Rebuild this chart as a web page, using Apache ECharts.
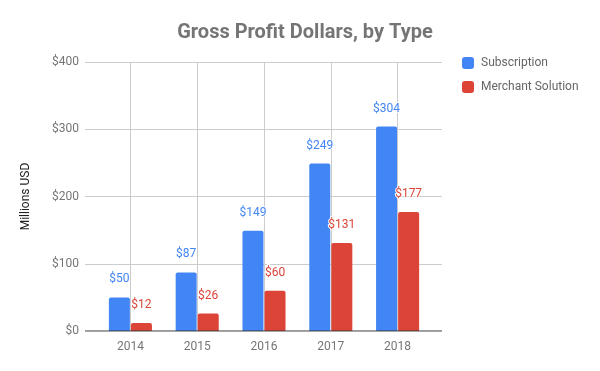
<!DOCTYPE html>
<html><head><meta charset="utf-8">
<script src="https://cdn.jsdelivr.net/npm/echarts@6/dist/echarts.min.js"></script>
<style>html,body{margin:0;padding:0;background:#fff}#c{width:600px;height:371px}</style>
</head><body><div id="c"></div>
<script>
const categories = ['2014','2015','2016','2017','2018'];
const subscription = [50, 87, 149, 249, 304];
const merchant = [12, 26, 60, 131, 177];
const yTicks = [0, 100, 200, 300, 400];
const seriesNames = ['Subscription', 'Merchant Solution'];

const chart = echarts.init(document.getElementById('c'));
const font = 'Roboto';
const gTop = 62, gBottom = 371 - 331;
chart.setOption({
  animation: false,
  textStyle: { fontFamily: font },
  title: {
    text: 'Gross Profit Dollars, by Type',
    left: 300, top: 18, textAlign: 'center',
    textStyle: { fontFamily: font, fontSize: 20, fontWeight: 'bold', color: '#757575' }
  },
  legend: {
    orient: 'vertical', left: 457, top: 52, itemWidth: 12, itemHeight: 12, itemGap: 12,
    icon: 'roundRect',
    textStyle: { fontFamily: font, fontSize: 12, color: '#666', padding: [0, 0, 0, 2] },
    data: seriesNames
  },
  grid: [
    { left: 85, right: 600 - 442, top: gTop, bottom: gBottom },
    { left: 97, right: 600 - 431, top: gTop, bottom: gBottom }
  ],
  xAxis: [
    { type: 'value', gridIndex: 0, min: 0, max: 1, show: false },
    { type: 'category', gridIndex: 1, data: categories,
      axisLine: { show: false }, axisTick: { show: false },
      axisLabel: { color: '#757575', fontSize: 12, margin: 10 },
      splitLine: { show: true, alignWithLabel: true, lineStyle: { color: '#ccc' } } }
  ],
  yAxis: [
    { type: 'value', gridIndex: 0, min: 0, max: 400, interval: 100,
      name: 'Millions USD', nameLocation: 'middle', nameGap: 53,
      nameTextStyle: { color: '#222', fontSize: 12 },
      axisLine: { show: false }, axisTick: { show: false },
      axisLabel: { color: '#757575', fontSize: 12, margin: 6, formatter: v => '$' + v },
      splitLine: { lineStyle: { color: '#ccc' } } },
    { type: 'value', gridIndex: 1, min: 0, max: 400, interval: 100, show: false,
      splitLine: { show: false } }
  ],
  series: [
    { type: 'line', xAxisIndex: 0, yAxisIndex: 0, data: [[0, 0], [1, 0]], symbol: 'none',
      lineStyle: { color: '#333', width: 1 }, silent: true, z: 5 },
    { name: seriesNames[0], type: 'bar', xAxisIndex: 1, yAxisIndex: 1, data: subscription,
      barWidth: 21, barGap: '5%',
      itemStyle: { color: '#4285F4', borderRadius: [2, 2, 0, 0] },
      label: { show: true, position: 'top', distance: 12, color: '#4285F4', fontSize: 12,
        formatter: p => '$' + p.value, textBorderColor: '#fff', textBorderWidth: 2 } },
    { name: seriesNames[1], type: 'bar', xAxisIndex: 1, yAxisIndex: 1, data: merchant,
      barWidth: 21,
      itemStyle: { color: '#DB4437', borderRadius: [2, 2, 0, 0] },
      label: { show: true, position: 'top', distance: 12, color: '#DB4437', fontSize: 12,
        formatter: p => '$' + p.value, textBorderColor: '#fff', textBorderWidth: 2 } }
  ]
});
</script></body></html>
